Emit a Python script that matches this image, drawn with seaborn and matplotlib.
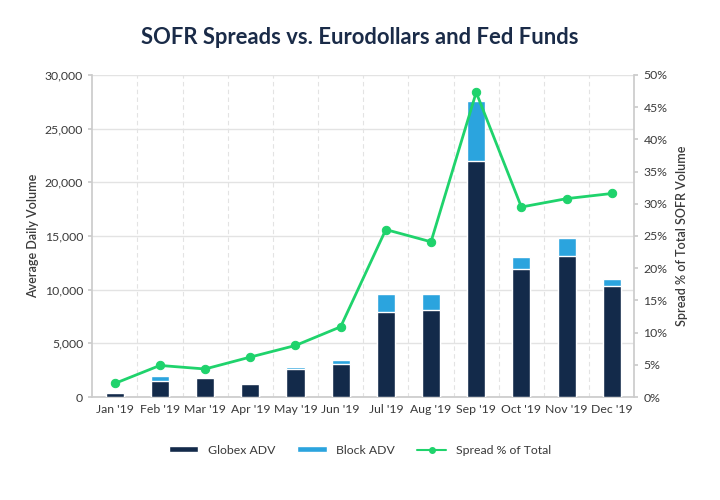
import numpy as np
import pandas as pd
import matplotlib
matplotlib.use("Agg")
import matplotlib.pyplot as plt
import seaborn as sns
from matplotlib.ticker import FuncFormatter, MultipleLocator, FixedLocator
from matplotlib.lines import Line2D
from matplotlib.patches import Patch

months = ["Jan '19", "Feb '19", "Mar '19", "Apr '19", "May '19", "Jun '19",
          "Jul '19", "Aug '19", "Sep '19", "Oct '19", "Nov '19", "Dec '19"]
globex_adv = [350, 1500, 1750, 1250, 2650, 3050, 7900, 8150, 21950, 11900, 13150, 10350]
block_adv = [0, 450, 0, 0, 150, 400, 1700, 1450, 5650, 1150, 1700, 650]
spread_pct = [2.1, 4.9, 4.35, 6.2, 8.0, 10.9, 26.0, 24.1, 47.3, 29.5, 30.8, 31.6]

NAVY = "#132a4a"
BLUE = "#2ba4de"
GREEN = "#1fd36c"
GRID = "#e3e3e3"
TXT = "#3a3a3a"

sns.set_theme(style="white")
plt.rcParams['font.family'] = ['Lato', 'DejaVu Sans']

df = pd.DataFrame({"month": months, "globex": globex_adv, "block": block_adv,
                   "total": np.array(globex_adv) + np.array(block_adv),
                   "pct": spread_pct, "pos": np.arange(len(months))})

fig = plt.figure(figsize=(7.2, 5), dpi=100)
ax = fig.add_axes([0.128, 0.206, 0.753, 0.644])

sns.barplot(data=df, x="month", y="total", color=BLUE, width=0.4, saturation=1, ax=ax, zorder=3)
sns.barplot(data=df, x="month", y="globex", color=NAVY, width=0.4, saturation=1, ax=ax, zorder=3)

ax.set_xlim(-0.5, 11.5)
ax.set_ylim(0, 30000)
ax.yaxis.set_major_locator(MultipleLocator(5000))
ax.yaxis.set_major_formatter(FuncFormatter(lambda v, p: f"{int(v):,}"))
ax.grid(axis="y", color=GRID, linewidth=1, zorder=0)
for b in np.arange(0.5, 11.5, 1):
    ax.axvline(b, color=GRID, linestyle=(0, (4, 3)), linewidth=0.8, zorder=0)

ax.set_xlabel("")
ax.set_ylabel("Average Daily Volume", fontsize=9, color=TXT, fontweight="semibold", labelpad=4)
ax.tick_params(axis="both", labelsize=8.8, colors=TXT, length=3, color="#cccccc")
ax.xaxis.set_minor_locator(FixedLocator(np.arange(0.5, 11.5, 1)))
ax.tick_params(axis="x", which="major", length=0, pad=5)
ax.tick_params(axis="x", which="minor", length=3, color="#cccccc")
for s in ["top", "right"]:
    ax.spines[s].set_visible(False)
for s in ["left", "bottom"]:
    ax.spines[s].set_color("#cccccc")

ax2 = ax.twinx()
sns.lineplot(data=df, x="pos", y="pct", color=GREEN, marker="o", markersize=6,
             markeredgecolor=GREEN, linewidth=2, ax=ax2, zorder=5)
ax2.set_xlim(-0.5, 11.5)
ax2.set_ylim(0, 50)
ax2.yaxis.set_major_locator(MultipleLocator(5))
ax2.yaxis.set_major_formatter(FuncFormatter(lambda v, p: f"{int(v)}%"))
ax2.set_ylabel("Spread % of Total SOFR Volume", fontsize=9, color=TXT, fontweight="semibold", labelpad=6)
ax2.set_xlabel("")
ax2.tick_params(axis="y", labelsize=8.8, colors=TXT, length=3, color="#cccccc")
for s in ["top", "left", "bottom"]:
    ax2.spines[s].set_visible(False)
ax2.spines["right"].set_color("#cccccc")

fig.text(0.5, 0.925, "SOFR Spreads vs. Eurodollars and Fed Funds", ha="center", va="center",
         fontsize=15.8, fontweight="bold", color="#1a2b48")

handles = [Patch(facecolor=NAVY, label="Globex ADV"),
           Patch(facecolor=BLUE, label="Block ADV"),
           Line2D([0], [0], color=GREEN, marker="o", markersize=4, linewidth=1.5, label="Spread % of Total")]
fig.legend(handles=handles, loc="center", bbox_to_anchor=(0.5, 0.1), ncol=3, frameon=False,
           fontsize=8.8, handlelength=2.4, handleheight=0.45, columnspacing=1.8, labelcolor=TXT)

fig.savefig("out.png", dpi=100)
